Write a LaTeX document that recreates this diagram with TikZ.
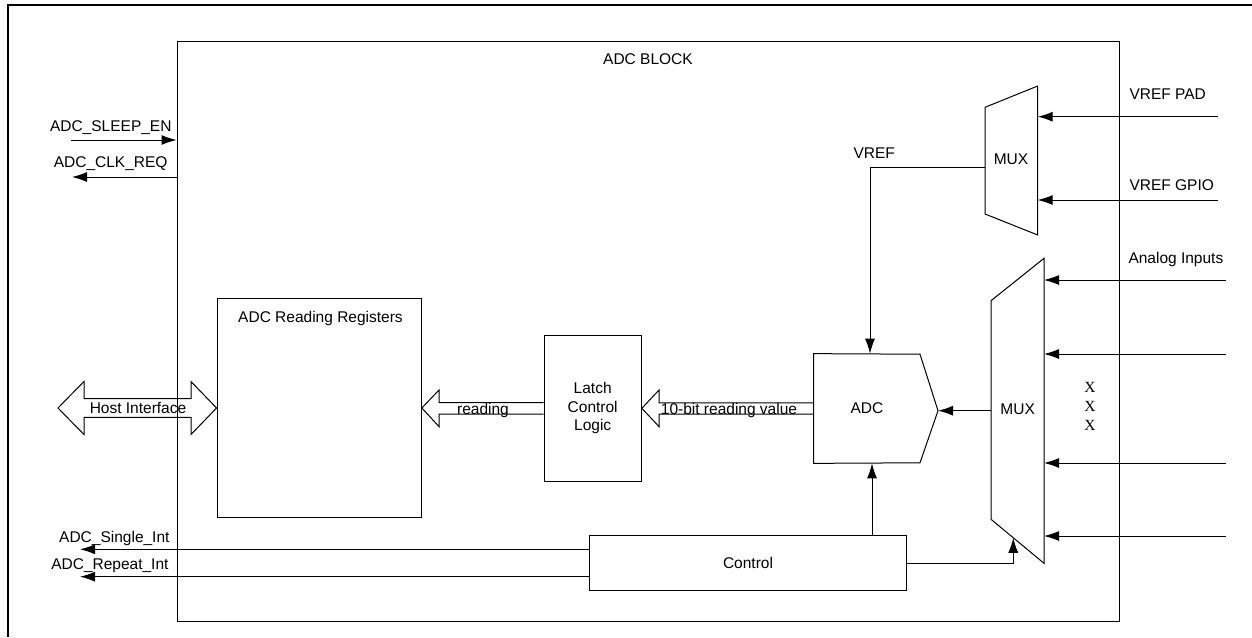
\documentclass[tikz,border=0pt]{standalone}
\usepackage{fontspec}
\setmainfont{Liberation Sans}
\newfontfamily\serfont{Liberation Serif}
\usetikzlibrary{arrows.meta,calc}

\tikzset{ every node/.style={font=\fontsize{15.5}{18.5}\selectfont, inner sep=0pt},
          box/.style={draw, line width=1pt},
          bus/.style={draw, line width=1pt} }

\begin{document}
\begin{tikzpicture}[x=1pt, y=-1pt, line width=1pt,
        every edge/.style={draw, line width=1pt, -{Latex[length=15pt,width=10pt]}}]
        \useasboundingbox (0,0) rectangle (1252,637);
        % outer frame
        \draw[line width=2.5pt] (1252,5) -| (8,637);

        % blocks
        \node[box, minimum width=942pt, minimum height=580pt] (blk) at (648,331) {};
        \node[anchor=base] (blktitle) at (648,64.3) {ADC BLOCK};
        \node[box, minimum width=204.3pt, minimum height=218.6pt] (regs) at (319.2,408) {};
        \node[anchor=base] (regstitle) at (320.5,322.3) {ADC Reading Registers};
        \node[box, minimum width=97.3pt, minimum height=146pt, align=center] (latch) at (592.7,408.3) {Latch\\Control\\Logic};
        \node[box, minimum width=317.7pt, minimum height=54.3pt] (ctrl) at (748,563) {Control};

        % ADC
        \node[minimum width=106pt, minimum height=108.7pt] (adc) at (867,408.5) {ADC};
        \coordinate (adctip) at (938,410.7);
        \draw (adc.north west) -- (920,354.2) -- (adctip) -- (920,462.8) -- (adc.south west) -- cycle;

        % muxes
        \coordinate (ma1) at (985,107.3);
        \coordinate (ma2) at (1037.7,86);
        \coordinate (ma3) at (1037.7,235);
        \coordinate (ma4) at (985,214);
        \draw (ma1) -- (ma2) -- (ma3) -- (ma4) -- cycle;
        \node (muxa) at (1011,159.5) {MUX};
        \coordinate (mb1) at (991,300.7);
        \coordinate (mb2) at (1044,258.3);
        \coordinate (mb3) at (1044,563.3);
        \coordinate (mb4) at (991,519.3);
        \draw (mb1) -- (mb2) -- (mb3) -- (mb4) -- cycle;
        \node (muxb) at (1017.7,409.5) {MUX};

        % inputs on the right
        \coordinate (vpad) at (1218,116.7);
        \coordinate (vgpio) at (1218,200);
        \node[anchor=base west] (vpadlbl) at (1129,99) {VREF PAD};
        \node[anchor=base west] (vgpiolbl) at (1129,190) {VREF GPIO};
        \node[anchor=base west] (ainlbl) at (1128,263.3) {Analog Inputs};
        \foreach \y [count=\i] in {280,354,463,536} {
            \coordinate (ain\i) at (1226,\y);
            \path (ain\i) edge (ain\i -| mb2);
        }
        \foreach \y [count=\i] in {392.3,411.7,430.7}
            \node[anchor=base, font=\serfont\fontsize{15.5}{18}\selectfont] (dot\i) at (1090,\y) {X};

        % left side signals
        \coordinate (slp) at (71,140);
        \coordinate (clk) at (72,177);
        \coordinate (sint) at (80,549.3);
        \coordinate (rint) at (80,576.7);
        \node[anchor=base east] (slplbl) at (172,131.7) {ADC\_SLEEP\_EN};
        \node[anchor=base east] (clklbl) at (168,167) {ADC\_CLK\_REQ};
        \node[anchor=base east] (sintlbl) at (170,542.7) {ADC\_Single\_Int};
        \node[anchor=base east] (rintlbl) at (169,569.3) {ADC\_Repeat\_Int};

        \node[anchor=base west] (vreflbl) at (853,158.3) {VREF};

        \path (vpad) edge (vpad -| ma2)
              (vgpio) edge (vgpio -| ma2)
              (ma1 |- 0,167.3) edge[to path={-| (\tikztotarget)}] ([xshift=3pt]adc.north)
              (adctip -| mb1) edge (adctip)
              ([xshift=124pt]ctrl.north) edge ([xshift=124pt]ctrl.north |- adc.south)
              (ctrl.east) edge[to path={-| (\tikztotarget)}] ($(mb4)!0.42!(mb3)$)
              (ctrl.west |- sint) edge (sint)
              (ctrl.west |- rint) edge (rint)
              (slp) edge (slp -| blk.west)
              (clk -| blk.west) edge (clk);

        % bus arrows
        \coordinate (hostend) at (58,408);
        \draw[bus] (hostend) -- (84,381.5) -- (84,398.7) -- (191,398.7) -- (191,381.5) -- (regs.west)
                   -- (191,434.5) -- (191,417.3) -- (84,417.3) -- (84,434.5) -- cycle;
        \node[anchor=base] (hostlbl) at (138,413.3) {Host Interface};
        \draw[bus] ([yshift=5.7pt]latch.west) -- (439,402.6) -- (439,390) -- (regs.east)
                   -- (439,426.6) -- (439,414) -- ([yshift=-5.7pt]latch.west);
        \node[anchor=base] (readlbl) at (483,414) {reading};
        \draw[bus] ([yshift=5.7pt]adc.west) -- (659,402.8) -- (659,390) -- (latch.east)
                   -- (659,426.6) -- (659,414.2) -- ([yshift=-5.7pt]adc.west);
        \node[anchor=base] (vallbl) at (729,414) {10-bit reading value};
\end{tikzpicture}
\end{document}
